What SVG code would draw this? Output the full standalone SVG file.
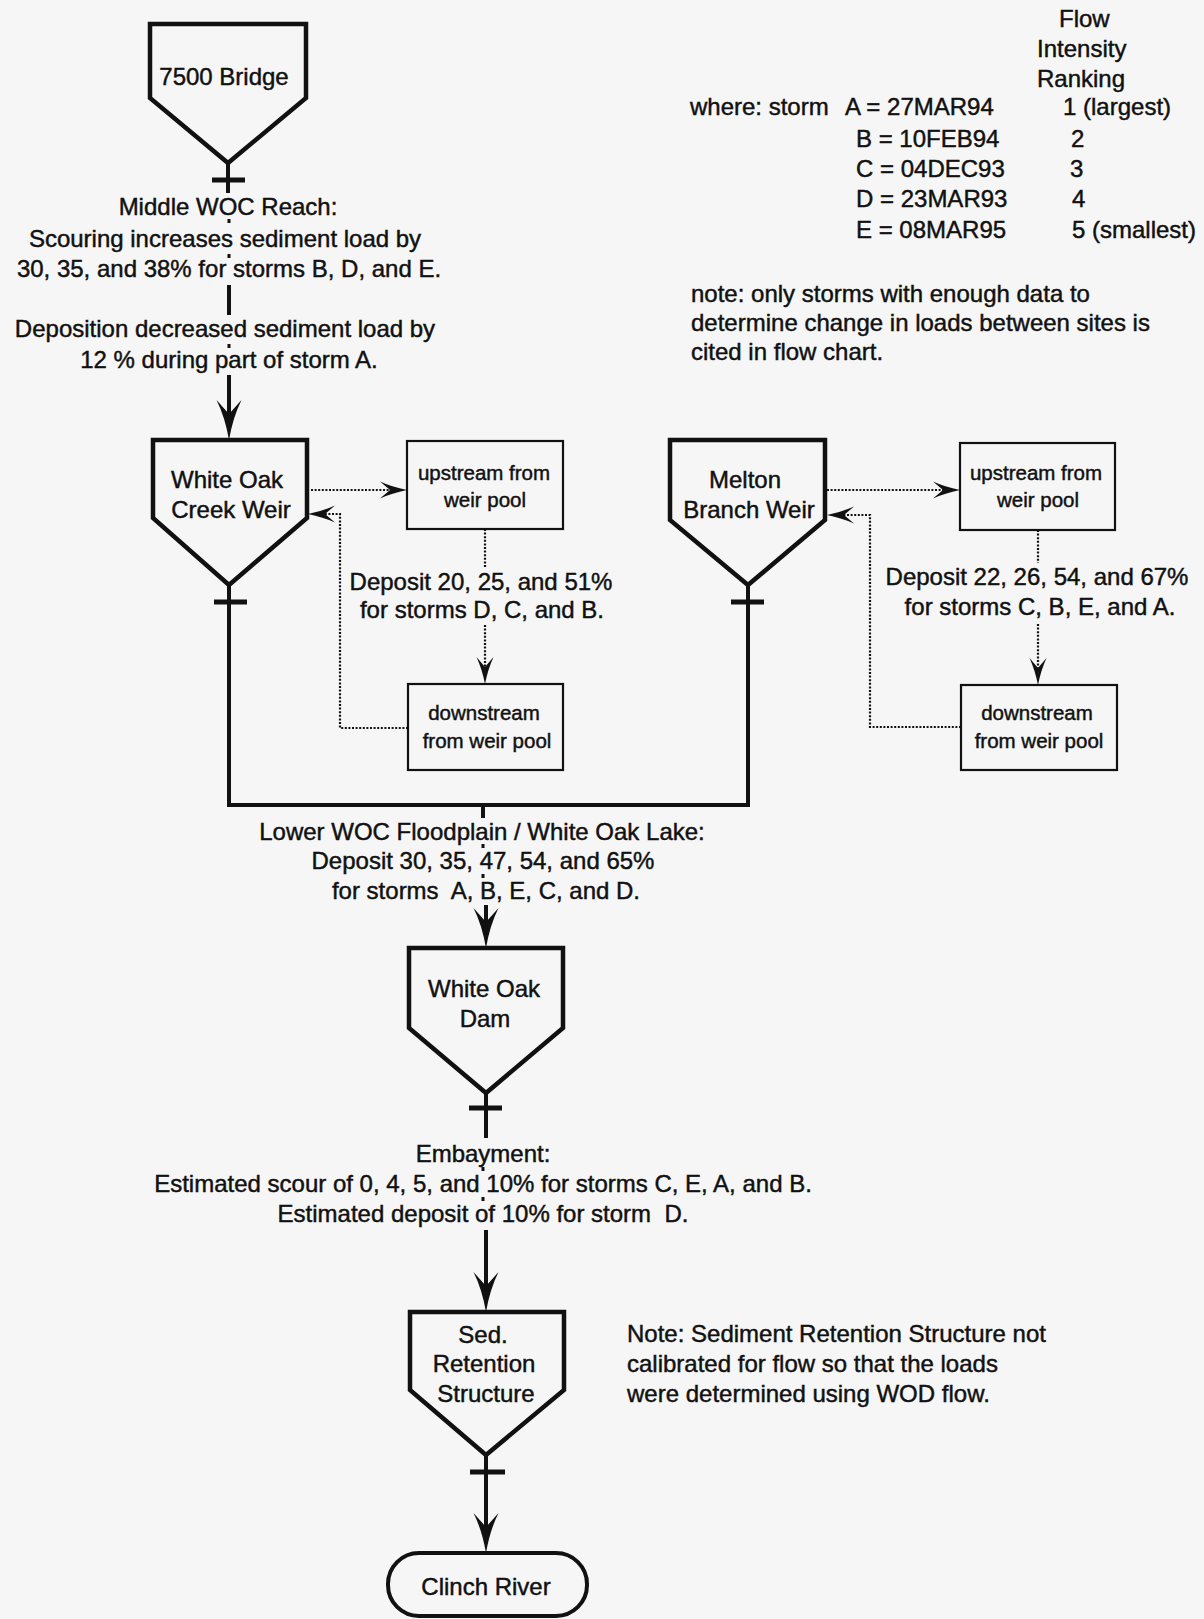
<svg xmlns="http://www.w3.org/2000/svg" width="1204" height="1619" viewBox="0 0 1204 1619">
<style>
  text { font-family: "Liberation Sans", Arial, sans-serif; font-size: 24px; fill: #111; stroke: #111; stroke-width: 0.45px; }
  .sm { font-size: 20.5px; }
  .mid { text-anchor: middle; }
  .pre { white-space: pre; }
  .node { fill: #f6f6f6; stroke: #111; stroke-width: 4.5; stroke-linejoin: miter; }
  .box { fill: #f6f6f6; stroke: #111; stroke-width: 2.2; }
  .flow { fill: none; stroke: #111; stroke-width: 4; }
  .bar { fill: none; stroke: #111; stroke-width: 5; }
  .dot { fill: none; stroke: #111; stroke-width: 2.2; stroke-dasharray: 2 1.6; }
  .mark { fill: none; stroke: #111; stroke-width: 3; }
</style>
<defs>
  <marker id="ah" markerUnits="userSpaceOnUse" markerWidth="44" markerHeight="28" viewBox="0 -14 44 28" refX="14" refY="0" orient="auto" overflow="visible">
    <path d="M40,0 Q17,-4 0,-12.5 L14,0 L0,12.5 Q17,4 40,0 Z" fill="#111"/>
  </marker>
  <marker id="sh" markerUnits="userSpaceOnUse" markerWidth="30" markerHeight="20" viewBox="0 -10 30 20" refX="10" refY="0" orient="auto" overflow="visible">
    <path d="M27,0 Q12,-3 0,-8.5 L10,0 L0,8.5 Q12,3 27,0 Z" fill="#111"/>
  </marker>
</defs>
<rect x="0" y="0" width="1204" height="1619" fill="#f6f6f6"/>

<g id="connectors">
  <!-- Bridge to WOC weir -->
  <path class="flow" d="M228,163 V193"/>
  <path class="bar" d="M212,180 H245"/>
  <path class="mark" d="M229,219 V223 M229,254 V258 M229,344 V348"/>
  <path class="flow" d="M229,285 V315"/>
  <path class="flow" d="M229,375 V414" marker-end="url(#ah)"/>
  <!-- weirs to confluence -->
  <path class="flow" d="M229,585 V805 H748 V585"/>
  <path class="bar" d="M214,602 H247"/>
  <path class="bar" d="M731,602 H764"/>
  <path class="flow" d="M483,805 V818"/>
  <path class="mark" d="M483,844 V848 M483,874 V878"/>
  <path class="flow" d="M486,905 V922" marker-end="url(#ah)"/>
  <!-- Dam to Sed -->
  <path class="flow" d="M486,1093 V1138"/>
  <path class="bar" d="M469,1108 H502"/>
  <path class="mark" d="M483,1167 V1171 M483,1197 V1201"/>
  <path class="flow" d="M486,1230 V1286" marker-end="url(#ah)"/>
  <!-- Sed to Clinch -->
  <path class="flow" d="M486,1455 V1527" marker-end="url(#ah)"/>
  <path class="bar" d="M470,1472 H505"/>
  <!-- WOC weir pool loops -->
  <path class="dot" d="M311,490 H390" marker-end="url(#sh)"/>
  <path class="dot" d="M485,529 V567"/>
  <path class="dot" d="M485,625 V667" marker-end="url(#sh)"/>
  <path class="dot" d="M408,728 H340 V514 H325" marker-end="url(#sh)"/>
  <!-- MB weir pool loops -->
  <path class="dot" d="M827,490 H943" marker-end="url(#sh)"/>
  <path class="dot" d="M1038,530 V563"/>
  <path class="dot" d="M1038,624 V668" marker-end="url(#sh)"/>
  <path class="dot" d="M961,727 H870 V515 H844" marker-end="url(#sh)"/>
</g>

<g id="bridge">
  <path class="node" d="M150,24 H306 V98 L228,163 L150,98 Z"/>
  <text class="mid" x="224" y="85">7500 Bridge</text>
</g>

<g id="middle-woc-reach">
  <text class="mid" x="228" y="215">Middle WOC Reach:</text>
  <text class="mid" x="225" y="247">Scouring increases sediment load by</text>
  <text class="mid" x="229" y="277">30, 35, and 38% for storms B, D, and E.</text>
  <text class="mid" x="225" y="337">Deposition decreased sediment load by</text>
  <text class="mid" x="229" y="368">12 % during part of storm A.</text>
</g>

<g id="legend">
  <text x="1059" y="27">Flow</text>
  <text x="1037" y="57">Intensity</text>
  <text x="1037" y="87">Ranking</text>
  <text x="690" y="115">where: storm</text>
  <text x="845" y="115">A = 27MAR94</text>
  <text x="856" y="147">B = 10FEB94</text>
  <text x="856" y="177">C = 04DEC93</text>
  <text x="856" y="207">D = 23MAR93</text>
  <text x="856" y="238">E = 08MAR95</text>
  <text x="1063" y="115">1 (largest)</text>
  <text x="1071" y="147">2</text>
  <text x="1070" y="177">3</text>
  <text x="1072" y="207">4</text>
  <text x="1072" y="238">5 (smallest)</text>
  <text x="691" y="302">note: only storms with enough data to</text>
  <text x="691" y="331">determine change in loads between sites is</text>
  <text x="691" y="360">cited in flow chart.</text>
</g>

<g id="woc-weir">
  <path class="node" d="M153,440 H307 V518 L229,585 L153,518 Z"/>
  <text class="mid" x="227" y="488">White Oak</text>
  <text class="mid" x="231" y="518">Creek Weir</text>
</g>

<g id="woc-upstream">
  <rect class="box" x="407" y="441" width="156" height="88"/>
  <text class="mid sm" x="484" y="480">upstream from</text>
  <text class="mid sm" x="485" y="507">weir pool</text>
</g>

<g id="woc-deposit-label">
  <text class="mid" x="481" y="590">Deposit 20, 25, and 51%</text>
  <text class="mid" x="482" y="618">for storms D, C, and B.</text>
</g>

<g id="woc-downstream">
  <rect class="box" x="408" y="684" width="155" height="86"/>
  <text class="mid sm" x="484" y="720">downstream</text>
  <text class="mid sm" x="487" y="748">from weir pool</text>
</g>

<g id="mb-weir">
  <path class="node" d="M670,440 H825 V520 L748,585 L670,520 Z"/>
  <text class="mid" x="745" y="488">Melton</text>
  <text class="mid" x="749" y="518">Branch Weir</text>
</g>

<g id="mb-upstream">
  <rect class="box" x="960" y="443" width="155" height="87"/>
  <text class="mid sm" x="1036" y="480">upstream from</text>
  <text class="mid sm" x="1038" y="507">weir pool</text>
</g>

<g id="mb-deposit-label">
  <text class="mid" x="1037" y="585">Deposit 22, 26, 54, and 67%</text>
  <text class="mid" x="1040" y="615">for storms C, B, E, and A.</text>
</g>

<g id="mb-downstream">
  <rect class="box" x="961" y="685" width="156" height="85"/>
  <text class="mid sm" x="1037" y="720">downstream</text>
  <text class="mid sm" x="1039" y="748">from weir pool</text>
</g>

<g id="lower-woc">
  <text class="mid" x="482" y="840">Lower WOC Floodplain / White Oak Lake:</text>
  <text class="mid" x="483" y="869">Deposit 30, 35, 47, 54, and 65%</text>
  <text class="mid pre" x="486" y="899">for storms  A, B, E, C, and D.</text>
</g>

<g id="woc-dam">
  <path class="node" d="M409,948 H563 V1028 L486,1093 L409,1028 Z"/>
  <text class="mid" x="484" y="997">White Oak</text>
  <text class="mid" x="485" y="1027">Dam</text>
</g>

<g id="embayment">
  <text class="mid" x="483" y="1162">Embayment:</text>
  <text class="mid" x="483" y="1192">Estimated scour of 0, 4, 5, and 10% for storms C, E, A, and B.</text>
  <text class="mid pre" x="483" y="1222">Estimated deposit of 10% for storm  D.</text>
</g>

<g id="sed-retention">
  <path class="node" d="M410,1312 H564 V1390 L486,1455 L410,1390 Z"/>
  <text class="mid" x="483" y="1343">Sed.</text>
  <text class="mid" x="484" y="1372">Retention</text>
  <text class="mid" x="486" y="1402">Structure</text>
</g>

<g id="sed-note">
  <text x="627" y="1342">Note: Sediment Retention Structure not</text>
  <text x="627" y="1372">calibrated for flow so that the loads</text>
  <text x="627" y="1402">were determined using WOD flow.</text>
</g>

<g id="clinch-river">
  <rect x="388" y="1553" width="199" height="63" rx="31" ry="31" fill="#f6f6f6" stroke="#111" stroke-width="4"/>
  <text class="mid" x="486" y="1595">Clinch River</text>
</g>
</svg>
